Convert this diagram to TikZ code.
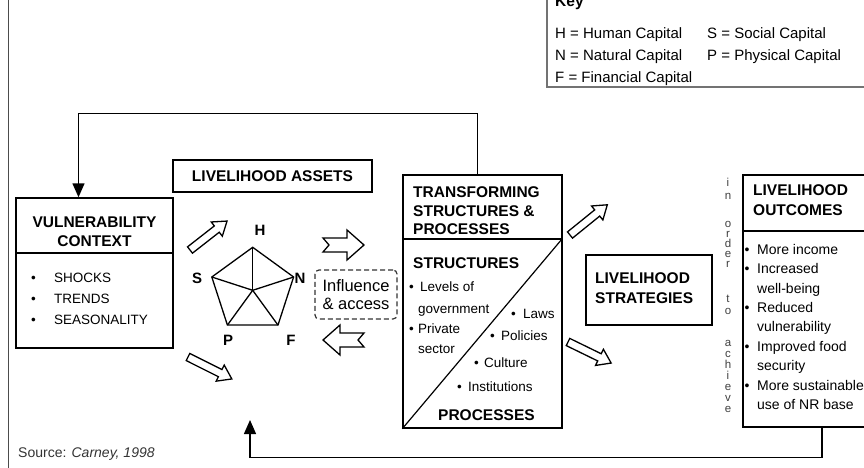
\documentclass[tikz,border=0pt]{standalone}
\usepackage{fontspec}
\setmainfont{Liberation Sans}
\usetikzlibrary{arrows.meta,fit,shapes.geometric,positioning}

% block arrows used between the boxes
\tikzset{
  hollow/.style={draw, fill=white, line width=1.3pt, line join=miter},
  pics/fatarrow/.style={code={
    \draw[hollow] (0,-4) -- (#1-13,-4) -- (#1-13,-9) -- (#1,0) -- (#1-13,9) -- (#1-13,4) -- (0,4) -- cycle;}},
  pics/notcharrow/.style={code={
    \draw[hollow] (0,-7) -- (24,-7) -- (24,-15) -- (41,0) -- (24,15) -- (24,7) -- (0,7) -- (6,0) -- cycle;}},
}

\begin{document}
\begin{tikzpicture}[x=1pt,y=-1pt,
    box/.style={draw, line width=1.4pt, inner sep=0pt},
    hdr/.style={font=\bfseries\fontsize{15.5}{19.5}\selectfont, align=left, inner sep=0pt},
    item/.style={font=\fontsize{13.5}{19}\selectfont, inner sep=0pt},
    keytxt/.style={font=\fontsize{15}{18}\selectfont, inner sep=0pt, anchor=base west},
    capl/.style={font=\bfseries\fontsize{15}{18}\selectfont, inner sep=0pt},
    vletter/.style={font=\fontsize{11.5}{13}\selectfont, text=black!75, inner sep=0pt, anchor=base},
    fb/.style={line width=1.4pt, -{Triangle[length=14pt,width=12pt]}}]
    \useasboundingbox (0,0) rectangle (864,468);
    \draw[black!70, line width=1pt] (8,-5) -- (8,475);

    % key
    \node[box, draw=black!55, line width=1.8pt, fit={(547,-10) (880,87)}] (key) {};
    \node[font=\bfseries\fontsize{15.5}{18}\selectfont, inner sep=0pt, anchor=base west] (keyhd) at (555,7) {Key};
    \node[keytxt] (keyH) at (555,38.5) {H = Human Capital};
    \node[keytxt] (keyS) at (707,38.5) {S = Social Capital};
    \node[keytxt] (keyN) at (555,60.5) {N = Natural Capital};
    \node[keytxt] (keyP) at (707,60.5) {P = Physical Capital};
    \node[keytxt] (keyF) at (555,82.5) {F = Financial Capital};

    % vulnerability context
    \node[box, fit={(16,198) (173,348)}] (vul) {};
    \draw[line width=1.2pt] (16,253) -- (173,253);
    \node[hdr, align=center, anchor=north] (vulhd) at (94.5,216.5) {VULNERABILITY\\CONTEXT};
    \node[item, font=\fontsize{13.5}{21}\selectfont, align=left, anchor=north west] (vulitems) at (31,273.3)
      {\makebox[23pt][l]{•}SHOCKS\\ \makebox[23pt][l]{•}TRENDS\\ \makebox[23pt][l]{•}SEASONALITY};

    % livelihood assets
    \node[box, fit={(173,160) (372,192)}] (assets) {};
    \node[hdr] (assetshd) at (assets.center) {LIVELIHOOD ASSETS};
    \node[draw, regular polygon, regular polygon sides=5, minimum size=86pt, inner sep=0pt, outer sep=0pt,
      line width=1.3pt] (pent) at (252.7,290.3) {};
    \foreach \c in {1,...,5}
      \draw[line width=1.3pt] (pent.center) -- (pent.corner \c);
    \node[capl] (capH) at (260,230) {H};
    \node[capl] (capN) at (300,278) {N};
    \node[capl] (capF) at (291,340) {F};
    \node[capl] (capP) at (228,340) {P};
    \node[capl] (capS) at (197,278) {S};
    \pic[rotate=38] at (190,250) {fatarrow=47};
    \pic[rotate=-26.6] at (188,357) {fatarrow=49};
    \pic at (323,245) {notcharrow};
    \pic[rotate=180] at (364,340) {notcharrow};
    \node[draw, dashed, dash pattern=on 5pt off 3pt, rounded corners=4pt, line width=1.2pt, draw=black!80,
      minimum width=82pt, minimum height=49pt, align=left, inner sep=0pt,
      font=\fontsize{16.5}{18}\selectfont] (infl) at (356,294.5) {Influence\\\& access};

    % transforming structures and processes
    \node[box, fit={(403,175) (562,428)}] (trans) {};
    \draw[line width=1.2pt] (403,239) -- (562,239);
    \draw[line width=1.2pt] (trans.south west) -- (562,239);
    \node[hdr, font=\bfseries\fontsize{15.5}{18.5}\selectfont, anchor=north west] (transhd) at (413,186.5)
      {TRANSFORMING\\STRUCTURES \&\\PROCESSES};
    \node[hdr, anchor=west] (structhd) at (413,263) {STRUCTURES};
    \node[item, anchor=base west] (s1) at (409,291.5) {\makebox[11pt][l]{•}Levels of};
    \node[item, anchor=base west] (s2) at (418,313.5) {government};
    \node[item, anchor=base west] (s3) at (409,333.5) {\makebox[9pt][l]{•}Private};
    \node[item, anchor=base west] (s4) at (418,353.5) {sector};
    \node[item, anchor=base west] (p1) at (511,318.5) {\makebox[12pt][l]{•}Laws};
    \node[item, anchor=base west] (p2) at (490,340.5) {\makebox[11pt][l]{•}Policies};
    \node[item, anchor=base west] (p3) at (474,367.5) {\makebox[10pt][l]{•}Culture};
    \node[item, anchor=base west] (p4) at (457,391.5) {\makebox[11pt][l]{•}Institutions};
    \node[hdr, anchor=west] (prochd) at (438,415) {PROCESSES};

    % livelihood strategies
    \pic[rotate=39] at (570,235) {fatarrow=48};
    \pic[rotate=-26] at (568,342) {fatarrow=48};
    \node[box, fit={(586,255) (712,325)}] (strat) {};
    \node[hdr, anchor=north west] (strathd) at (595,272.5) {LIVELIHOOD\\STRATEGIES};

    % in order to achieve
    \foreach \ch/\yy in {i/186,n/199,o/227,r/237,d/247,e/257,r/267,t/302,o/314,a/346,c/357,h/368,i/379,e/390,v/401,e/412}
      \node[vletter] (ltr\yy) at (728,\yy) {\ch};

    % livelihood outcomes
    \node[box, fit={(743,175) (880,427)}] (outc) {};
    \draw[line width=1.2pt] (743,231) -- (880,231);
    \node[hdr, anchor=north west] (outchd) at (753,184.5) {LIVELIHOOD\\OUTCOMES};
    \node[item, font=\fontsize{14}{19.4}\selectfont, align=left, anchor=north west] (outitems) at (744.5,244)
      {\makebox[12.5pt][l]{•}More income\\
       \makebox[12.5pt][l]{•}Increased\\
       \hspace*{12.5pt}well-being\\
       \makebox[12.5pt][l]{•}Reduced\\
       \hspace*{12.5pt}vulnerability\\
       \makebox[12.5pt][l]{•}Improved food\\
       \hspace*{12.5pt}security\\
       \makebox[12.5pt][l]{•}More sustainable\\
       \hspace*{12.5pt}use of NR base};

    % feedback loops
    \draw[fb] ([xshift=-5pt]trans.north) -- ++(0,-61) -| ([xshift=-16pt]vul.north);
    \coordinate (backin) at (250,420);
    \draw[fb] ([xshift=10.5pt]outc.south) -- ++(0,30) -| (backin);

    \node[font=\fontsize{14}{16}\selectfont, text=black!80, inner sep=0pt, anchor=base west] (src) at (18,457.5)
      {Source: \textit{Carney, 1998}};
\end{tikzpicture}
\end{document}
